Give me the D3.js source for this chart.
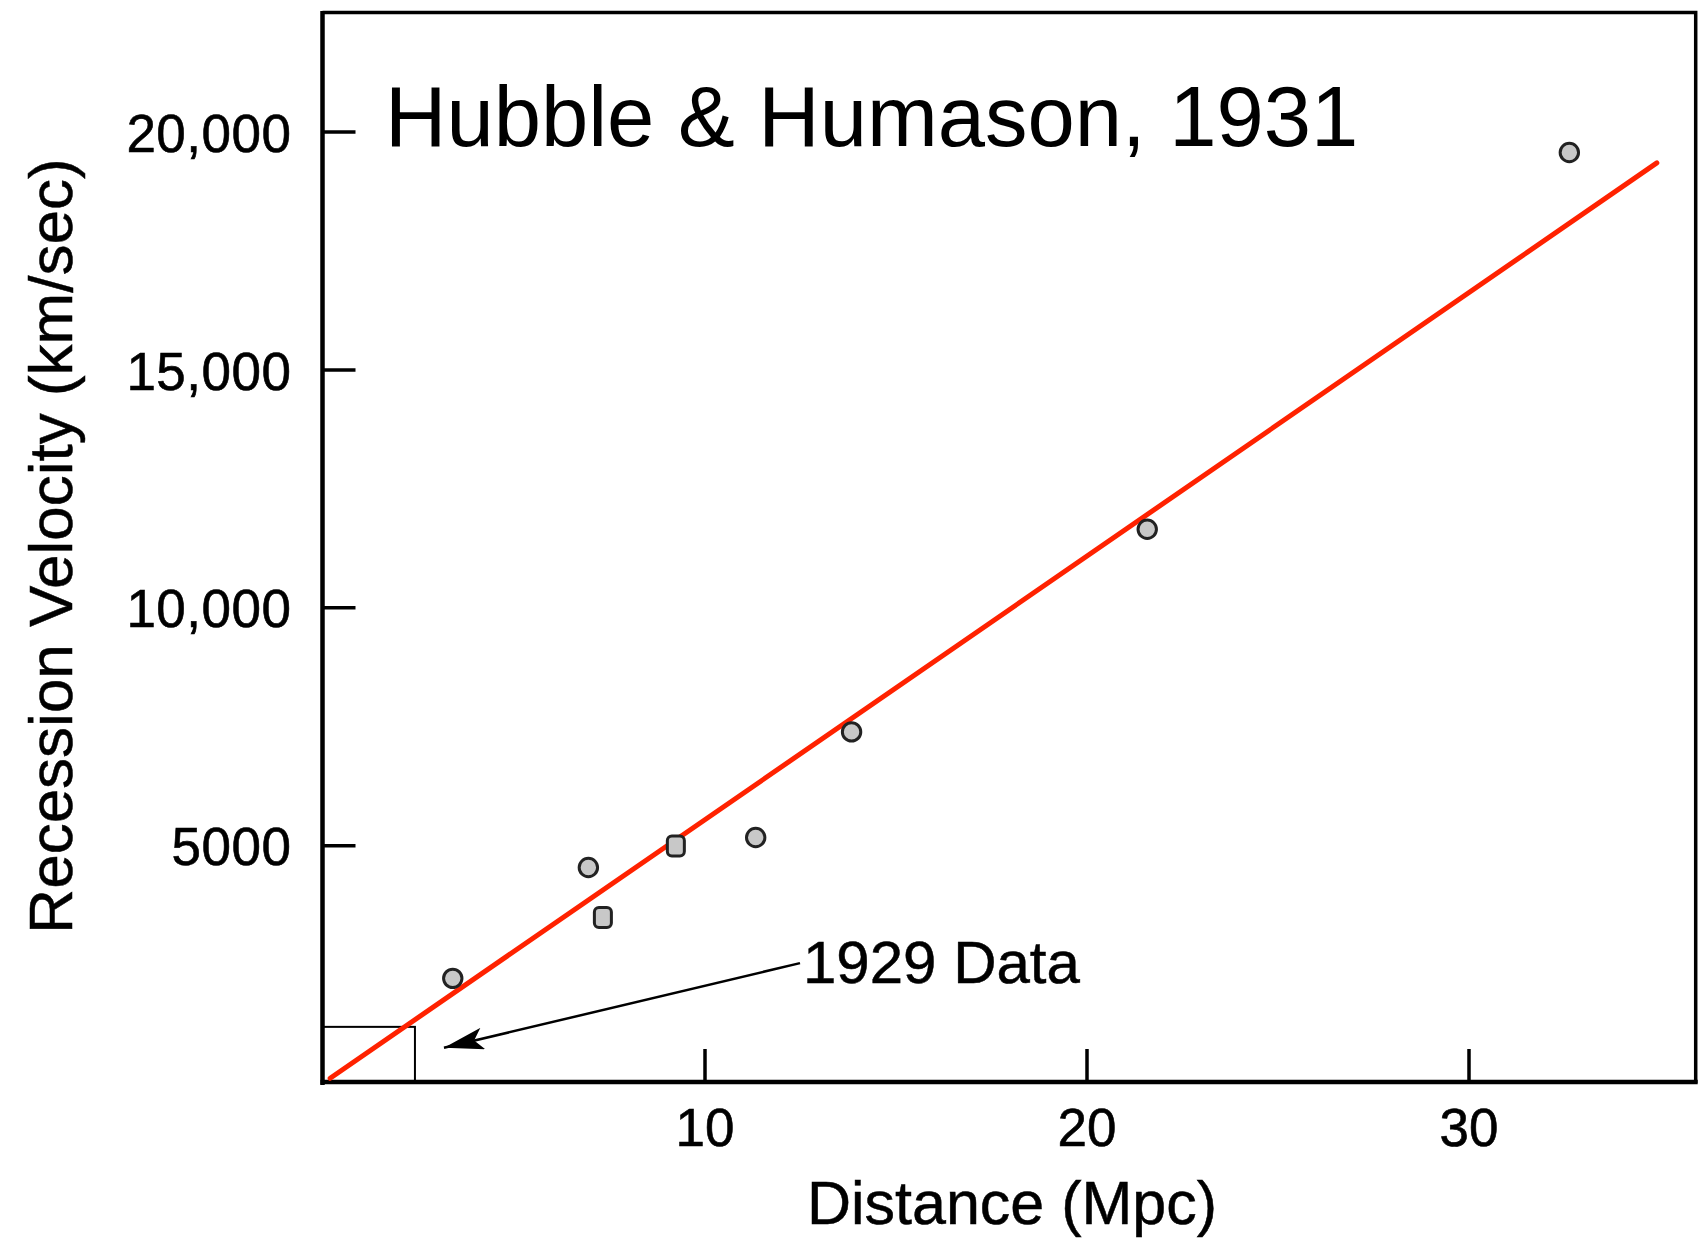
<!DOCTYPE html>
<html>
<head>
<meta charset="utf-8">
<script src="https://cdn.jsdelivr.net/npm/d3@7"></script>
<style>
  html, body { margin: 0; padding: 0; background: #fff; }
  svg { display: block; }
  text { font-family: "Liberation Sans", Arial, Helvetica, sans-serif; fill: #000; }
</style>
</head>
<body>
<svg id="chart" width="1698" height="1238"></svg>
<script>
// ---- data ----
const distances  = [3.41, 6.96, 7.34, 9.25, 11.34, 13.85, 21.59, 32.64];          // Mpc
const velocities = [2200, 4530, 3480, 4980, 5160, 7380, 11640, 19560];           // km/s
const markerShapes = ["circle", "circle", "square", "square", "circle", "circle", "circle", "circle"];
const fitDistances  = [0.2, 34.93];
const fitVelocities = [100, 19340];
const xTickValues = [10, 20, 30];
const xTickLabels = ["10", "20", "30"];
const yTickValues = [5000, 10000, 15000, 20000];
const yTickLabels = ["5000", "10,000", "15,000", "20,000"];
const box1929 = [2.42, 1180];               // extent of the 1929 data box (Mpc, km/s)
const arrowFrom = [12.5, 2520];             // annotation arrow start
const arrowTo   = [3.18, 740];              // annotation arrow tip
const titleText = "Hubble & Humason, 1931";
const annotText = "1929 Data";
const xTitle = "Distance (Mpc)";
const yTitle = "Recession Velocity (km/sec)";

(function () {
// ---- layout ----
const svg = d3.select("#chart");
const pL = 322.5, pR = 1697.7, pT = 12.6, pB = 1083;
const x = d3.scaleLinear().domain([0, 36]).range([pL, pR]);
const y = d3.scaleLinear().domain([0, 22500]).range([pB, pT]);

// frame (top + right)
svg.append("path")
  .attr("d", `M${pL},${pT}H${pR - 2}V${pB}`)
  .attr("fill", "none").attr("stroke", "#000").attr("stroke-width", 3.5);

// axes
const yAxis = d3.axisLeft(y).tickValues(yTickValues)
  .tickFormat((d, i) => yTickLabels[i]).tickSizeInner(-33).tickSizeOuter(0).tickPadding(31);
const gy = svg.append("g").attr("transform", `translate(${pL},0)`).call(yAxis);
gy.select(".domain").attr("stroke-width", 4.5).attr("d", `M0,${pT - 1.5}V${pB + 2}`);
gy.selectAll(".tick line").attr("stroke-width", 3.5);
gy.selectAll(".tick text").attr("font-size", 53).attr("dy", "0.37em")
  .attr("font-family", "'Liberation Sans', Arial, sans-serif").attr("fill", "#000")
  .attr("stroke", "#000").attr("stroke-width", 0.6).attr("letter-spacing", 0.5);

const xAxis = d3.axisBottom(x).tickValues(xTickValues)
  .tickFormat((d, i) => xTickLabels[i]).tickSizeInner(-33).tickSizeOuter(0).tickPadding(26);
const gx = svg.append("g").attr("transform", `translate(0,${pB - 1})`).call(xAxis);
gx.select(".domain").attr("stroke-width", 4.5).attr("d", `M${pL - 2},0H${pR}`);
gx.selectAll(".tick line").attr("stroke-width", 3.5);
gx.selectAll(".tick text").attr("font-size", 53).attr("dy", "0.71em")
  .attr("font-family", "'Liberation Sans', Arial, sans-serif").attr("fill", "#000")
  .attr("stroke", "#000").attr("stroke-width", 0.6);

// axis titles
svg.append("text").attr("x", 1012).attr("y", 1224).attr("text-anchor", "middle")
  .attr("font-size", 61).attr("stroke", "#000").attr("stroke-width", 0.5).text(xTitle);
svg.append("text").attr("transform", `translate(72,546) rotate(-90)`).attr("text-anchor", "middle")
  .attr("font-size", 62).attr("stroke", "#000").attr("stroke-width", 0.5).text(yTitle);

// chart title
svg.append("text").attr("x", 385).attr("y", 146).attr("font-size", 85).text(titleText);

// 1929 data box
svg.append("rect")
  .attr("x", x(0)).attr("y", y(box1929[1]))
  .attr("width", x(box1929[0]) - x(0)).attr("height", y(0) - y(box1929[1]))
  .attr("fill", "none").attr("stroke", "#000").attr("stroke-width", 2);

// fit line
svg.append("path")
  .datum(fitDistances.map((d, i) => [d, fitVelocities[i]]))
  .attr("d", d3.line().x(d => x(d[0])).y(d => y(d[1])))
  .attr("fill", "none").attr("stroke", "#ff2200").attr("stroke-width", 5).attr("stroke-linecap", "round");

// annotation arrow
svg.append("defs").append("marker")
  .attr("id", "ah").attr("markerUnits", "userSpaceOnUse")
  .attr("viewBox", "0 0 40 22").attr("refX", 40).attr("refY", 11)
  .attr("markerWidth", 40).attr("markerHeight", 22).attr("orient", "auto")
  .append("path").attr("d", "M0,0L40,11L0,22L9,11Z").attr("fill", "#000");
svg.append("line")
  .attr("x1", x(arrowFrom[0])).attr("y1", y(arrowFrom[1]))
  .attr("x2", x(arrowTo[0])).attr("y2", y(arrowTo[1]))
  .attr("stroke", "#000").attr("stroke-width", 2.5).attr("marker-end", "url(#ah)");
svg.append("text").attr("x", x(arrowFrom[0]) + 3).attr("y", 983)
  .attr("font-size", 60).attr("stroke", "#000").attr("stroke-width", 0.5).text(annotText);

// data points
const pts = distances.map((d, i) => ({ d, v: velocities[i], s: markerShapes[i] }));
const gp = svg.append("g");
gp.selectAll("circle").data(pts.filter(p => p.s === "circle")).join("circle")
  .attr("cx", p => x(p.d)).attr("cy", p => y(p.v)).attr("r", 9.2)
  .attr("fill", "#c8c8c8").attr("stroke", "#222").attr("stroke-width", 3);
gp.selectAll("rect").data(pts.filter(p => p.s === "square")).join("rect")
  .attr("x", p => x(p.d) - 8.5).attr("y", p => y(p.v) - 10)
  .attr("width", 17).attr("height", 20).attr("rx", 4.5)
  .attr("fill", "#c8c8c8").attr("stroke", "#222").attr("stroke-width", 3);
})();
</script>
</body>
</html>
